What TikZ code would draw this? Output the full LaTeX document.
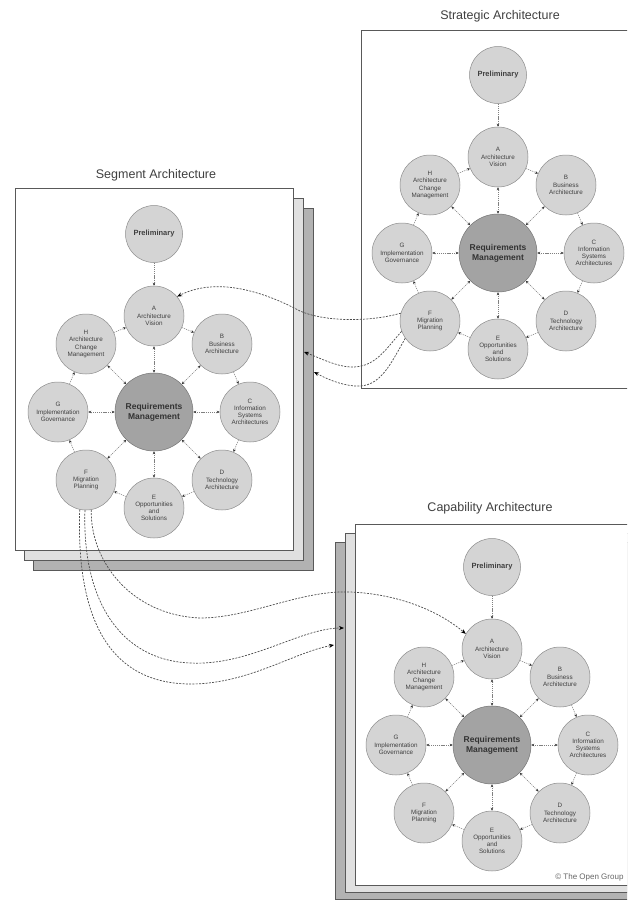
\documentclass[tikz,border=0pt]{standalone}
\usepackage{fontspec}
\setmainfont{Liberation Sans}
\usetikzlibrary{arrows.meta}
\tikzset{
  phase/.style={circle, draw=black!45, fill=black!17, line width=0.5pt, minimum size=60pt, inner sep=0pt, align=center, font=\fontsize{6.3}{7.2}\selectfont, text=black!75},
  reqm/.style={circle, draw=black!55, fill=black!36, line width=0.5pt, minimum size=78pt, inner sep=0pt, align=center, font=\bfseries\fontsize{8.5}{10}\selectfont, text=black!80},
  prelim/.style={phase, minimum size=57pt, font=\bfseries\fontsize{7.5}{9}\selectfont},
  tipin/.tip={Stealth[length=3pt,width=2.6pt,black!80]},
  inarr/.style={draw=black!50, line width=0.5pt, dash pattern=on 1.2pt off 0.9pt, -tipin},
  inboth/.style={inarr, tipin-tipin},
  xarr/.style={draw=black!70, line width=0.7pt, dash pattern=on 2pt off 1.3pt, -{Stealth[length=5pt,width=4pt,black]}},
  sheet/.style={draw=black!65, line width=0.8pt, fill=white},
  sheetA/.style={sheet, fill=black!12},
  sheetB/.style={sheet, fill=black!30},
  title/.style={font=\fontsize{12.5}{14}\selectfont, text=black!75},
  adm/.pic={
    \node[reqm] (-R) at (0,0) {Requirements\\Management};
    \node[prelim] (-P) at (0,-178) {Preliminary};
    \node[phase] (-A) at (0,-96) {A\\Architecture\\Vision};
    \node[phase] (-B) at (68,-68) {B\\Business\\Architecture};
    \node[phase] (-C) at (96,0) {C\\Information\\Systems\\Architectures};
    \node[phase] (-D) at (68,68) {D\\Technology\\Architecture};
    \node[phase] (-E) at (0,96) {E\\Opportunities\\and\\Solutions};
    \node[phase] (-F) at (-68,68) {F\\Migration\\Planning};
    \node[phase] (-G) at (-96,0) {G\\Implementation\\Governance};
    \node[phase] (-H) at (-68,-68) {H\\Architecture\\Change\\Management};
    \draw[inarr] (-P) -- (-A);
    \draw[inarr] (-A) -- (-B);
    \draw[inarr] (-B) -- (-C);
    \draw[inarr] (-C) -- (-D);
    \draw[inarr] (-D) -- (-E);
    \draw[inarr] (-E) -- (-F);
    \draw[inarr] (-F) -- (-G);
    \draw[inarr] (-G) -- (-H);
    \draw[inarr] (-H) -- (-A);
    \foreach \p in {A,B,C,D,E,F,G,H} { \draw[inboth] (-R) -- (-\p); }
  }
}
\begin{document}
\begin{tikzpicture}[x=1pt, y=-1pt]
\useasboundingbox (0,0) rectangle (627,902);
\clip (0,0) rectangle (627,902);
\fill[white] (0,0) rectangle (627,902);

% Strategic
\draw[sheet] (361,30) rectangle (660,388);
\node[title] (ts) at (500,16) {Strategic Architecture};
\pic (s) at (498,253) {adm};

% Segment stack
\draw[sheetB] (33,208) rectangle (313,570);
\draw[sheetA] (24,198) rectangle (303,560);
\draw[sheet] (15,188) rectangle (293,550);
\node[title] (tg) at (156,175) {Segment Architecture};
\pic (g) at (154,412) {adm};

% Capability stack
\draw[sheetB] (335,542) rectangle (660,899);
\draw[sheetA] (345,533) rectangle (660,892);
\draw[sheet] (355,524) rectangle (660,885);
\node[title] (tc) at (490,508) {Capability Architecture};
\pic (c) at (492,745) {adm};
\node[font=\fontsize{8}{9}\selectfont, text=black!60, anchor=east] (copy) at (627,877) {\textcopyright{} The Open Group};

% free ends on the back sheets
\coordinate (g-in1) at (304,352);
\coordinate (g-in2) at (314,372);
\coordinate (c-in1) at (344,628);
\coordinate (c-in2) at (334,645);

% Strategic -> Segment
\draw[xarr] (s-F.165) .. controls (370,322) and (325,322) .. (300,311)
   .. controls (270,295) and (220,275) .. (g-A.40);
\draw[xarr] (s-F.200) .. controls (385,350) and (375,368) .. (350,367)
   .. controls (335,366) and (320,358) .. (g-in1);
\draw[xarr] (s-F.215) .. controls (390,365) and (380,388) .. (355,386)
   .. controls (340,385) and (325,378) .. (g-in2);

% Segment -> Capability
\draw[xarr] (g-F.280) .. controls (90,560) and (130,615) .. (200,618)
   .. controls (250,618) and (300,590) .. (350,592)
   .. controls (400,594) and (440,612) .. (c-A.150);
\draw[xarr] (g-F.268) .. controls (82,600) and (120,660) .. (190,663)
   .. controls (250,666) and (300,628) .. (c-in1);
\draw[xarr] (g-F.258) .. controls (76,620) and (110,685) .. (193,684)
   .. controls (250,683) and (295,652) .. (c-in2);
\end{tikzpicture}
\end{document}
